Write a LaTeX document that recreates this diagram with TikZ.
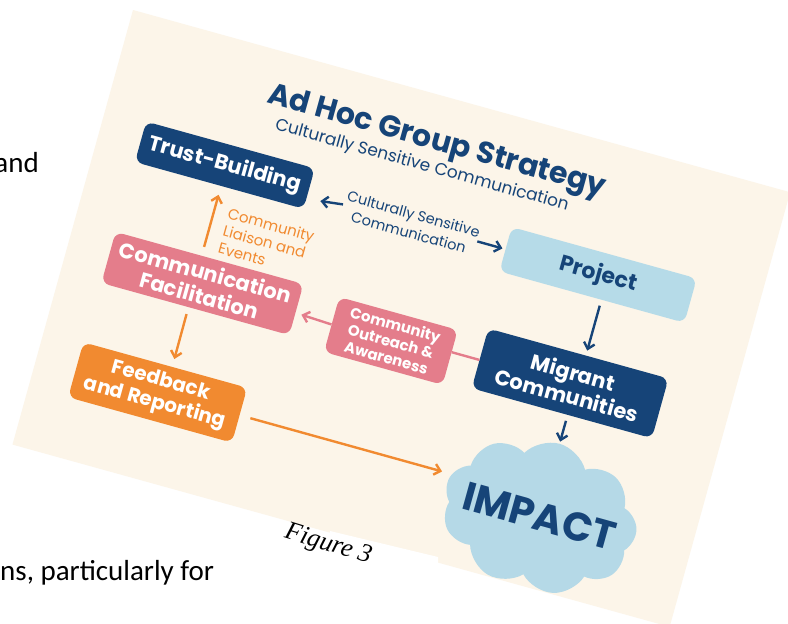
\documentclass[tikz,border=0pt]{standalone}
\usepackage{fontspec}
\setmainfont{Liberation Serif}
\newfontfamily\popfont{Poppins}
\newfontfamily\bodyfont{Carlito}
\usetikzlibrary{positioning,shapes.symbols,arrows.meta}

\definecolor{cardcream}{RGB}{252,245,233}
\definecolor{navyblue}{RGB}{22,68,120}
\definecolor{paleblue}{RGB}{182,219,232}
\definecolor{rosepink}{RGB}{228,125,139}
\definecolor{warmorange}{RGB}{241,138,48}
\definecolor{cloudblue}{RGB}{181,217,231}

\tikzset{
  >={Straight Barb[length=6pt,width=11pt]},
  stepbox/.style={rectangle, rounded corners=8pt, align=center, inner sep=0pt, transform shape,
    font=\popfont\bfseries\fontsize{21}{24}\selectfont},
  navyarrow/.style={->, line width=2.4pt, navyblue},
  orangearrow/.style={->, line width=2.4pt, warmorange},
  pinkarrow/.style={->, line width=2.4pt, rosepink},
}

\begin{document}
\begin{tikzpicture}[x=1pt,y=-1pt]
    \useasboundingbox (0,0) rectangle (788,624);
    \fill[white] (0,0) rectangle (788,624);
    \clip (0,0) rectangle (788,624);

    % page text around the figure
    \node[anchor=base east, inner sep=0pt, font=\bodyfont\fontsize{29}{34}\selectfont] (pageand) at (39,172) {and};
    \node[anchor=base west, inner sep=0pt, font=\bodyfont\fontsize{29}{34}\selectfont] (pagetail) at (0,580) {ns, particularly for};

    \begin{scope}[shift={(133,10)}, rotate=-15.5]
        \fill[cardcream] (0,0) rectangle (682,451);

        \node[transform shape, text=navyblue, font=\popfont\bfseries\fontsize{30}{34}\selectfont] (title) at (328,47) {Ad Hoc Group Strategy};
        \node[transform shape, text=navyblue, font=\popfont\fontsize{17}{20}\selectfont] (subtitle) at (320,73) {Culturally Sensitive Communication};

        \node[stepbox, fill=navyblue, text=white, minimum width=175pt, minimum height=42pt] (trust) at (130,125) {Trust-Building};
        \node[stepbox, fill=rosepink, text=white, minimum width=195pt, minimum height=53pt] (facil) at (140,245) {Communication\\Facilitation};
        \node[stepbox, fill=warmorange, text=white, minimum width=170pt, minimum height=57pt,
              font=\popfont\bfseries\fontsize{20}{23}\selectfont] (feedback) at (126,362) {Feedback\\and Reporting};
        \node[stepbox, fill=paleblue, text=navyblue, minimum width=192pt, minimum height=46pt,
              font=\popfont\bfseries\fontsize{22}{25}\selectfont] (project) at (519,131) {Project};
        \node[stepbox, fill=navyblue, text=white, minimum width=187pt, minimum height=62pt] (migrant) at (521,243) {Migrant\\Communities};
        \node[stepbox, fill=rosepink, text=white, minimum width=123pt, minimum height=57pt,
              font=\popfont\bfseries\fontsize{15}{17}\selectfont] (outreach) at (337,250) {Community\\Outreach \&\\Awareness};

        \node[cloud, cloud puffs=9, cloud puff arc=120, aspect=1.3, fill=cloudblue, transform shape,
              minimum width=197pt, minimum height=150pt] (impact) at (527,379) {};
        \node[transform shape, text=navyblue, font=\popfont\bfseries\fontsize{40}{44}\selectfont] (impacttext) at (impact.center) {IMPACT};

        \node[transform shape, anchor=north west, align=left, inner sep=0pt, text=warmorange,
              font=\popfont\fontsize{15}{18}\selectfont] (liaison) at (146,164) {Community\\Liaison and\\Events};
        \node[transform shape, align=center, inner sep=0pt, text=navyblue,
              font=\popfont\fontsize{14.5}{19}\selectfont] (csclabel) at (325,131) {Culturally Sensitive\\Communication};

        \draw[orangearrow, shorten <=9pt, shorten >=9pt] (facil.107) -- (trust.275);
        \draw[orangearrow, shorten <=7pt, shorten >=8pt] (facil.255) -- (feedback.76);
        \draw[navyarrow, shorten <=2pt, shorten >=14pt] (csclabel.west) -- (trust.-7);
        \draw[navyarrow, shorten <=0pt, shorten >=3pt] (csclabel.east) -- (project.west);
        \draw[navyarrow, shorten <=6pt, shorten >=5pt] (project.293) -- (migrant.76);
        \draw[navyarrow, shorten <=6pt, shorten >=2pt] (migrant.281) -- (impact.north);
        \draw[line width=2.4pt, rosepink] (migrant.181) -- (outreach.5);
        \draw[pinkarrow, shorten >=6pt] (outreach.west) -- (facil.-2);
        \draw[orangearrow, shorten <=11pt, shorten >=10pt] (feedback.east) -- (impact.170);
    \end{scope}

    % caption cut into the card
    \fill[white] (330,531) -- (438,557) -- (438,595) -- (330,595) -- cycle;
    \node[rotate=-17, font=\itshape\fontsize{26}{30}\selectfont] (figcap) at (328,545) {Figure 3};
\end{tikzpicture}
\end{document}
